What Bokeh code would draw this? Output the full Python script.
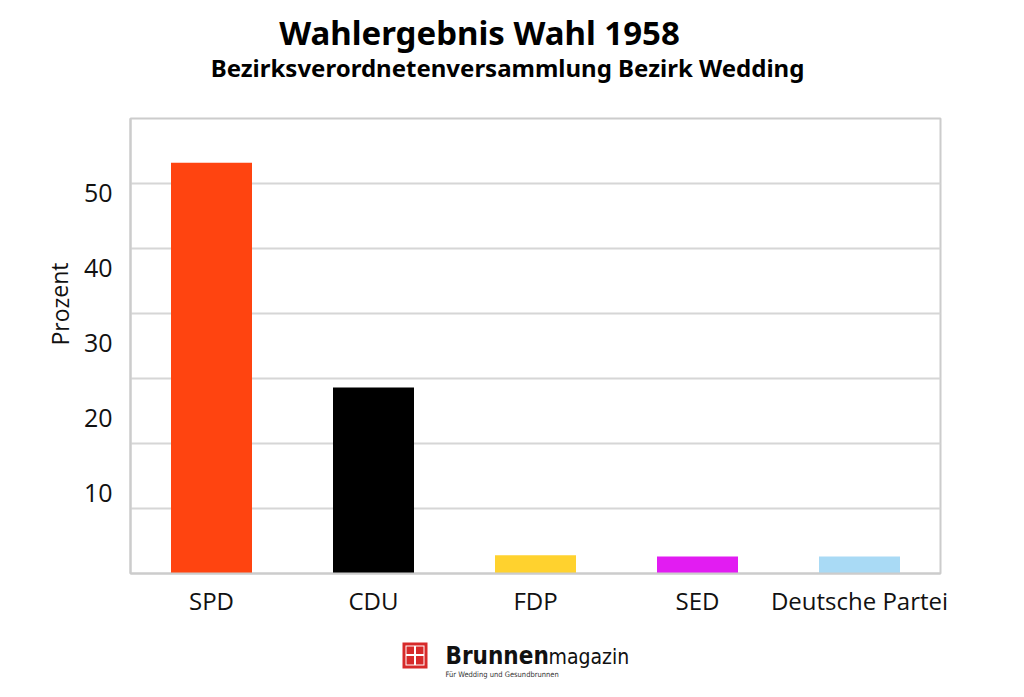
from bokeh.plotting import figure
from bokeh.models import Range1d, FixedTicker
from bokeh.layouts import column, row
from bokeh.core.properties import value
from bokeh.embed import file_html
from bokeh.resources import INLINE

# ---- data ----
parties = ["SPD", "CDU", "FDP", "SED", "Deutsche Partei"]
prozent = [63.2, 28.6, 2.8, 2.6, 2.6]
colors = ["#FF4410", "#000000", "#FFD22E", "#E21CF2", "#A9DAF5"]
grid_values = [0, 10, 20, 30, 40, 50, 60, 70]
y_tick_labels = ["10", "20", "30", "40", "50"]
y_axis_title = "Prozent"
title_text = "Wahlergebnis Wahl 1958"
subtitle_text = "Bezirksverordnetenversammlung Bezirk Wedding"
logo_bold = "Brunnen"
logo_light = "magazin"
logo_tagline = "Für Wedding und Gesundbrunnen"

W, H = 1024, 697
TOP_H, MAIN_H = 100, 525
LOGO_H = H - TOP_H - MAIN_H
SIDE_W = 80


def blank(width, height):
    f = figure(width=width, height=height, x_range=Range1d(0, width),
               y_range=Range1d(height, 0), output_backend="svg",
               toolbar_location=None, min_border=0, min_border_left=0,
               min_border_right=0, min_border_top=0, min_border_bottom=0)
    f.axis.visible = False
    f.grid.visible = False
    f.outline_line_color = None
    f.background_fill_color = "white"
    f.border_fill_color = "white"
    return f


# ---- title block ----
t = blank(W, TOP_H)
t.text(x=[479], y=[32], text=[title_text], text_align="center", text_baseline="middle",
       text_font=value("Noto Sans"), text_font_style="bold",
       text_font_size="33px", text_color="#000000")
t.text(x=[507], y=[67], text=[subtitle_text], text_align="center", text_baseline="middle",
       text_font=value("Noto Sans"), text_font_style="bold",
       text_font_size="24px", text_color="#000000")

# ---- y axis title ----
s = blank(SIDE_W, MAIN_H)
s.text(x=[59], y=[214], text=[y_axis_title], angle=1.5708, text_align="center",
       text_baseline="middle", text_font=value("Open Sans"),
       text_font_size="23px", text_color="#111111")

# ---- main chart ----
p = figure(width=W - SIDE_W, height=MAIN_H, x_range=parties, y_range=Range1d(0, 70),
           output_backend="svg", toolbar_location=None,
           min_border_left=50, min_border_right=84,
           min_border_top=18, min_border_bottom=52)
p.x_range.range_padding = 0
p.background_fill_color = "white"
p.border_fill_color = "white"
p.outline_line_color = "#cccccc"
p.outline_line_width = 2

p.vbar(x=parties, top=prozent, width=0.5, color=colors, line_color=None)

p.xgrid.visible = False
p.ygrid.ticker = FixedTicker(ticks=grid_values)
p.ygrid.grid_line_color = "#d6d6d6"
p.ygrid.grid_line_width = 2

# y labels sit where the source prints them, slightly off the gridlines
label_pos = [round(float(v) * 75 / 65 + 0.8, 3) for v in y_tick_labels]
p.yaxis.ticker = FixedTicker(ticks=label_pos)
p.yaxis.major_label_overrides = {pos: v for pos, v in zip(label_pos, y_tick_labels)}
p.yaxis.major_tick_line_color = None
p.yaxis.minor_tick_line_color = None
p.yaxis.axis_line_color = "#cccccc"
p.yaxis.axis_line_width = 2
p.yaxis.major_label_text_font = "Open Sans"
p.yaxis.major_label_text_font_size = "25px"
p.yaxis.major_label_text_color = "#111111"
p.yaxis.major_label_standoff = 12

p.xaxis.major_tick_line_color = None
p.xaxis.minor_tick_line_color = None
p.xaxis.axis_line_color = "#cccccc"
p.xaxis.axis_line_width = 2
p.xaxis.major_label_text_font = "Open Sans"
p.xaxis.major_label_text_font_size = "24px"
p.xaxis.major_label_text_color = "#111111"
p.xaxis.major_label_standoff = 4

# ---- logo block ----
g = blank(W, LOGO_H)
oy = TOP_H + MAIN_H  # canvas offset of this block
g.quad(left=[402], right=[427], top=[642 - oy], bottom=[668 - oy],
       fill_color="#D72A2A", line_color=None)
g.quad(left=[405], right=[424], top=[645 - oy], bottom=[665 - oy],
       fill_color="#FFFFFF", line_color=None)
g.quad(left=[406, 415.5, 406, 415.5], right=[413.5, 423, 413.5, 423],
       top=[646 - oy, 646 - oy, 655.5 - oy, 655.5 - oy],
       bottom=[653.5 - oy, 653.5 - oy, 664 - oy, 664 - oy],
       fill_color="#D72A2A", line_color=None)
g.text(x=[445], y=[655 - oy], text=[logo_bold], text_align="left", text_baseline="middle",
       text_font=value("DejaVu Sans Condensed"), text_font_style="bold",
       text_font_size="24px", text_color="#111111")
g.text(x=[548], y=[656 - oy], text=[logo_light], text_align="left", text_baseline="middle",
       text_font=value("DejaVu Sans Condensed"),
       text_font_size="21px", text_color="#111111")
g.text(x=[445], y=[674 - oy], text=[logo_tagline], text_align="left",
       text_baseline="middle", text_font=value("DejaVu Sans Condensed"),
       text_font_size="7.5px", text_color="#333333")

layout = column(t, row(s, p), g)
open("out.html", "w").write(file_html(layout, INLINE))
